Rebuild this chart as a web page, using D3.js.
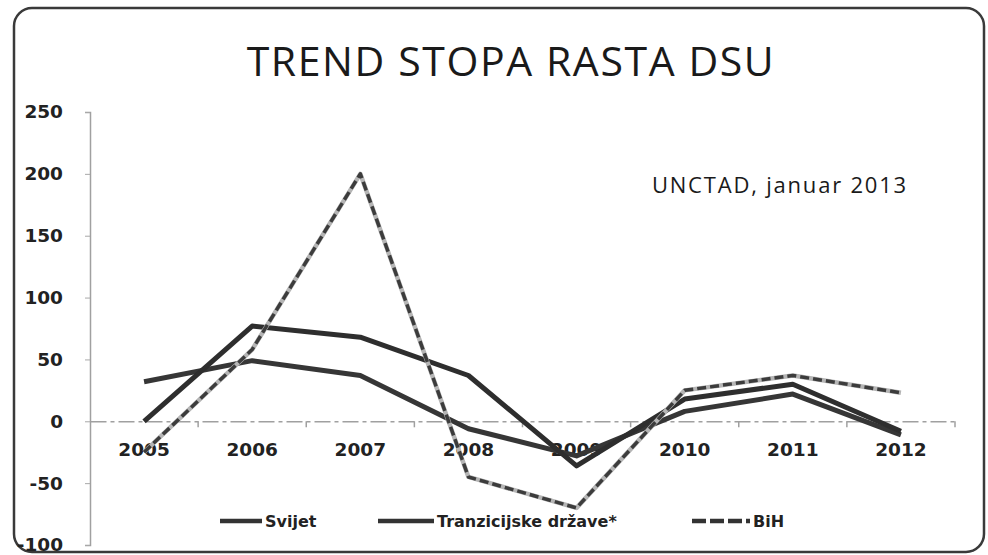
<!DOCTYPE html>
<html>
<head>
<meta charset="utf-8">
<script src="https://cdn.jsdelivr.net/npm/d3@7/dist/d3.min.js"></script>
<style>
  html, body { margin: 0; padding: 0; background: #ffffff; }
  svg { display: block; }
</style>
</head>
<body>
<svg id="chart" width="988" height="555"></svg>
<script>
// ---- data ----
const years = ["2005", "2006", "2007", "2008", "2009", "2010", "2011", "2012"];
const svijet = [32, 49, 37, -6, -28, 8, 22, -11];
const tranzicijske = [0, 77, 68, 37, -36, 18, 30, -8];
const bih = [-25, 58, 200, -45, -70, 25, 37, 23];
const yTicks = [-100, -50, 0, 50, 100, 150, 200, 250];
const seriesNames = ["Svijet", "Tranzicijske države*", "BiH"];
const titleText = "TREND STOPA RASTA DSU";
const noteText = "UNCTAD, januar 2013";

// ---- drawing ----
const svg = d3.select("#chart");
const W = 988, H = 555;

svg.append("rect").attr("width", W).attr("height", H).attr("fill", "#fff");

// outer rounded frame
svg.append("rect")
  .attr("x", 14).attr("y", 8).attr("width", 970).attr("height", 544)
  .attr("rx", 18).attr("ry", 18)
  .attr("fill", "#fff").attr("stroke", "#3a3a3a").attr("stroke-width", 2.5);

const x = d3.scaleBand().domain(years).range([90, 955]).padding(0);
const y = d3.scaleLinear().domain([-100, 250]).range([545, 112]);
const cx = d => x(d) + x.bandwidth() / 2;

// title
svg.append("text")
  .attr("x", 511).attr("y", 76)
  .attr("text-anchor", "middle")
  .attr("font-family", "Open Sans")
  .attr("font-size", 41)
  .attr("letter-spacing", 1.6)
  .attr("fill", "#1a1a1a")
  .text(titleText);

// note
svg.append("text")
  .attr("x", 908).attr("y", 193)
  .attr("text-anchor", "end")
  .attr("font-family", "Open Sans")
  .attr("font-size", 22)
  .attr("letter-spacing", 1.8)
  .attr("fill", "#1a1a1a")
  .text(noteText);

// y axis
const yAxis = d3.axisLeft(y).tickValues(yTicks).tickSize(5).tickPadding(22)
  .tickFormat(d => String(d));
const gy = svg.append("g").attr("transform", "translate(90,0)").call(yAxis);
gy.select(".domain").attr("stroke", "#a0a0a0").attr("stroke-width", 1.5);
gy.selectAll(".tick line").attr("stroke", "#a8a8a8");
gy.selectAll(".tick text")
  .attr("font-family", "DejaVu Sans").attr("font-weight", "bold")
  .attr("font-size", 18.5).attr("fill", "#222");

// x axis at zero
const xAxis = d3.axisBottom(x).tickSize(0).tickPadding(22);
const gx = svg.append("g").attr("transform", `translate(0,${y(0)})`).call(xAxis);
gx.select(".domain").attr("stroke", "#a0a0a0").attr("stroke-width", 1.5)
  .attr("stroke-dasharray", "16,4,4,4");
gx.selectAll(".tick text")
  .attr("font-family", "DejaVu Sans").attr("font-weight", "bold")
  .attr("font-size", 18.5).attr("fill", "#222");
// boundary tick marks between categories
svg.append("g").selectAll("line")
  .data(years.slice(1).concat(["end"]))
  .join("line")
  .attr("x1", d => d === "end" ? x.range()[1] : x(d))
  .attr("x2", d => d === "end" ? x.range()[1] : x(d))
  .attr("y1", y(0)).attr("y2", y(0) + 6)
  .attr("stroke", "#a0a0a0").attr("stroke-width", 1.5);

// lines
const line = d3.line().x((d, i) => cx(years[i])).y(d => y(d));

svg.append("path").datum(svijet)
  .attr("d", line).attr("fill", "none")
  .attr("stroke", "#363636").attr("stroke-width", 5)
  .attr("stroke-linejoin", "round");

svg.append("path").datum(tranzicijske)
  .attr("d", line).attr("fill", "none")
  .attr("stroke", "#2e2e2e").attr("stroke-width", 5)
  .attr("stroke-linejoin", "round");

svg.append("path").datum(bih)
  .attr("d", line).attr("fill", "none")
  .attr("stroke", "#b5b5b5").attr("stroke-width", 4.5)
  .attr("stroke-linejoin", "round");
svg.append("path").datum(bih)
  .attr("d", line).attr("fill", "none")
  .attr("stroke", "#3c3c3c").attr("stroke-width", 3.5)
  .attr("stroke-dasharray", "9,4")
  .attr("stroke-linejoin", "round");

// legend
const legend = [
  { name: seriesNames[0], x1: 220, x2: 262, dash: null },
  { name: seriesNames[1], x1: 378, x2: 434, dash: null },
  { name: seriesNames[2], x1: 692, x2: 750, dash: "14,4" }
];
const ly = 521;
const lg = svg.append("g");
legend.forEach(l => {
  lg.append("line")
    .attr("x1", l.x1).attr("x2", l.x2).attr("y1", ly).attr("y2", ly)
    .attr("stroke", "#333").attr("stroke-width", 4.5)
    .attr("stroke-dasharray", l.dash);
  lg.append("text")
    .attr("x", l.x2 + 3).attr("y", ly).attr("dy", "0.35em")
    .attr("font-family", "DejaVu Sans").attr("font-weight", "bold")
    .attr("font-size", 16).attr("fill", "#222")
    .text(l.name);
});
</script>
</body>
</html>
